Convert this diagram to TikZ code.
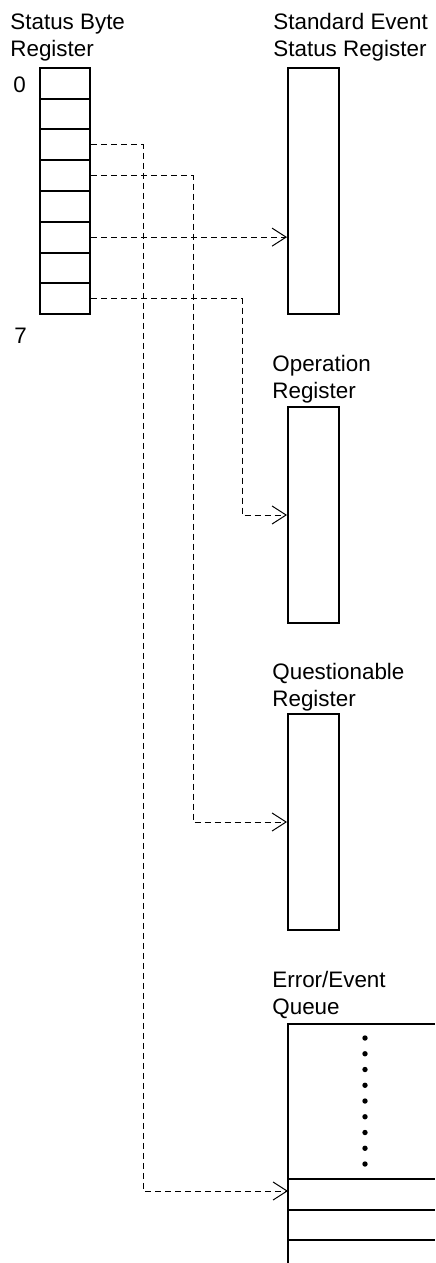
\documentclass[tikz,border=0pt]{standalone}
\usepackage{fontspec}
\setmainfont{Liberation Sans}
\usetikzlibrary{arrows.meta}
\begin{document}
\begin{tikzpicture}[x=0.5pt,y=-0.5pt,
  lbl/.style={anchor=base west,inner sep=0pt,align=left,font=\fontsize{11.2}{13.5}\selectfont},
  cell/.style={draw,line width=1pt,minimum width=25pt,minimum height=15.375pt,inner sep=0pt},
  reg/.style={draw,line width=1pt,minimum width=25.5pt,inner sep=0pt},
  sig/.style={draw,line width=0.5pt,dash pattern=on 3pt off 2pt,-{Straight Barb[length=7pt,width=9pt]}},
  qline/.style={line width=1pt}]
\useasboundingbox (0,0) rectangle (435,1263);
% Status byte register
\node[lbl] (sbl) at (10,57) {Status Byte\\Register};
\node[lbl] (b0) at (13,93) {0};
\node[lbl] (b7) at (14,343) {7};
\foreach \i in {1,...,8}
  \node[cell] (c\i) at (65,{68+30.75*(\i-0.5)}) {};
% Registers
\node[lbl] (sesrl) at (273,57) {Standard Event\\Status Register};
\node[reg,minimum height=123pt] (sesr) at (313.5,191) {};
\node[lbl] (oprl) at (272,398) {Operation\\Register};
\node[reg,minimum height=108pt] (opr) at (313.5,515) {};
\node[lbl] (qrl) at (272,706) {Questionable\\Register};
\node[reg,minimum height=108pt] (qr) at (313.5,822) {};
% Error/Event queue
\node[lbl] (eql) at (272,1014) {Error/Event\\Queue};
\draw[qline] (435,1024) -- (288,1024) -- (288,1263);
\draw[qline] (288,1179) -- (435,1179);
\draw[qline] (288,1210) -- (435,1210);
\draw[qline] (288,1240) -- (435,1240);
\foreach \i in {0,...,8}
  \fill (365,{1038+15.75*\i}) circle[radius=1.35pt];
\coordinate (qin) at (288,1191);
% routing columns
\coordinate (k1) at (143,0);
\coordinate (k2) at (193,0);
\coordinate (k3) at (242,0);
% connectors
\path[sig] (c3.east) -| (k1 |- qin) -- (qin);
\path[sig] (c4.east) -| (k2 |- qr.west) -- (qr.west);
\path[sig] (c6.east) -- (sesr.west |- c6.east);
\path[sig] (c8.east) -| (k3 |- opr.west) -- (opr.west);
\end{tikzpicture}
\end{document}
